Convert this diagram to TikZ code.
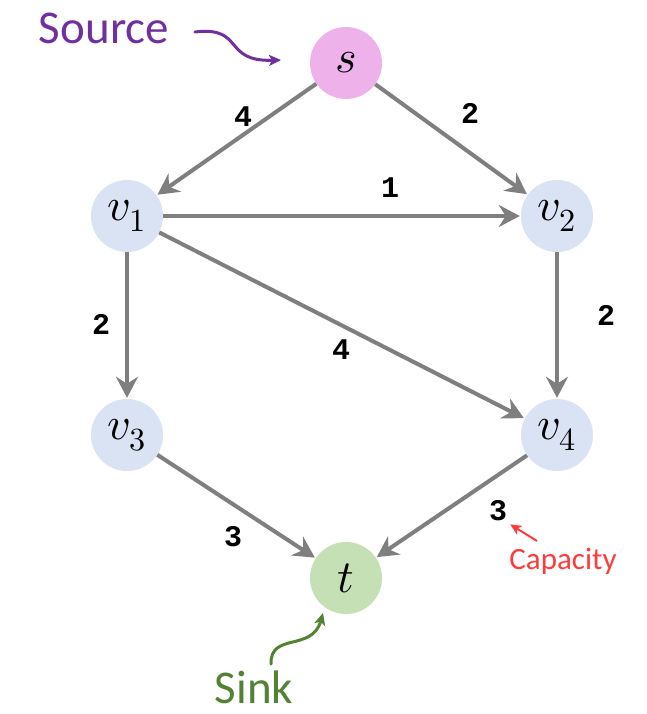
\documentclass[tikz,border=0pt]{standalone}
\usepackage{fontspec}
\usepackage{unicode-math}
\setmainfont{Carlito}
\newfontfamily\capfont{Liberation Mono}
\usetikzlibrary{arrows.meta}
\definecolor{srcfill}{HTML}{EEB1EA}
\definecolor{midfill}{HTML}{DAE3F3}
\definecolor{sinkfill}{HTML}{C5E0B4}
\definecolor{edgegray}{HTML}{7F7F7F}
\definecolor{srcpurple}{HTML}{7030A0}
\definecolor{sinkgreen}{HTML}{548235}
\definecolor{capred}{HTML}{FF3B3B}
\tikzset{
  vertex/.style={circle, minimum size=72pt, inner sep=0pt, font=\fontsize{46}{48}\selectfont},
  flow/.style={draw=edgegray, line width=4pt, -{Stealth[length=21pt,width=22pt,inset=7pt]}, shorten >=1pt},
  caplabel/.style={font=\capfont\bfseries\fontsize{30}{32}\selectfont, text=black, inner sep=0pt},
  note/.style={font=\fontsize{47}{49}\selectfont, anchor=center, inner sep=0pt},
}
\begin{document}
\begin{tikzpicture}[x=1pt,y=-1pt]
\useasboundingbox (0,0) rectangle (647,714);
\fill[white] (0,0) rectangle (647,714);

% vertices
\node[vertex, fill=srcfill]  (s)  at (346,63)  {$s$};
\node[vertex, fill=midfill]  (v1) at (127,216) {$v_1$};
\node[vertex, fill=midfill]  (v2) at (557,216) {$v_2$};
\node[vertex, fill=midfill]  (v3) at (127,435) {$v_3$};
\node[vertex, fill=midfill]  (v4) at (557,435) {$v_4$};
\node[vertex, fill=sinkfill] (t)  at (346,578) {$t$};

% edges
\draw[flow] (s)  -- (v1);
\draw[flow] (s)  -- (v2);
\draw[flow] (v1) -- (v2);
\draw[flow] (v1) -- (v3);
\draw[flow] (v1) -- (v4);
\draw[flow] (v2) -- (v4);
\draw[flow] (v3) -- (t);
\draw[flow] (v4) -- (t);

% capacities
\node[caplabel] (c1) at (243,117) {4};
\node[caplabel] (c2) at (470,113) {2};
\node[caplabel] (c3) at (390,188) {1};
\node[caplabel] (c4) at (101,324) {2};
\node[caplabel] (c5) at (341,350) {4};
\node[caplabel] (c6) at (606,315) {2};
\node[caplabel] (c7) at (233,537) {3};
\node[caplabel] (c8) at (498,511) {3};

% annotations
\node[note, text=srcpurple] (srclbl) at (104,28) {Source};
\coordinate (srcA) at (195,32);
\coordinate (srcB) at (281,60);
\draw[srcpurple, line width=3pt, line cap=round, -{Stealth[length=12pt,width=11pt,inset=3pt]}]
  (srcA) .. controls (245,26) and (222,62) .. (srcB);

\node[note, text=sinkgreen] (sinklbl) at (254,687) {Sink};
\coordinate (sinkA) at (271,664);
\coordinate (sinkB) at (323,613);
\draw[sinkgreen, line width=3pt, line cap=round, -{Stealth[length=12pt,width=11pt,inset=3pt]}]
  (sinkA) .. controls (270,632) and (312,652) .. (sinkB);

\node[font=\fontsize{31}{33}\selectfont, text=capred, inner sep=0pt] (caplbl) at (563,561) {Capacity};
\coordinate (capA) at (537,541);
\draw[capred, line width=2pt, -{Stealth[length=11pt,width=10pt,inset=3pt]}]
  (capA) -- ([shift={(3pt,-3pt)}]c8.south east);
\end{tikzpicture}
\end{document}
